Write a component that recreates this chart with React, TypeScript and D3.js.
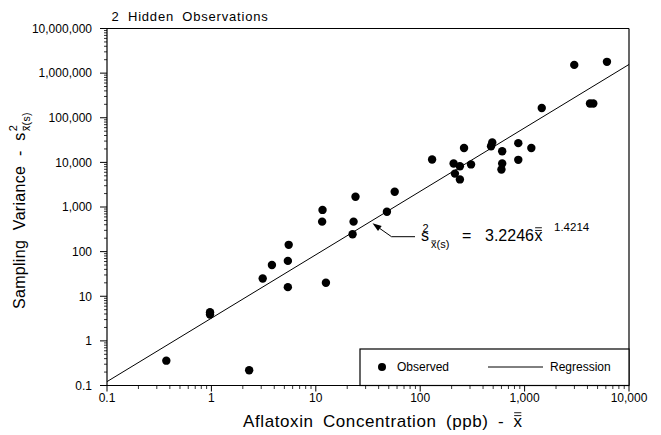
import React, { useLayoutEffect, useRef, useState } from "react";
import * as d3 from "d3";

// ---- data ----
const obsX = [0.37, 0.97, 0.97, 2.3, 3.1, 3.8, 5.4, 5.5, 5.4, 12.5, 11.5, 11.6, 22.5, 23, 24, 48, 57, 130, 263, 209, 240, 215, 240, 307, 490, 477, 610, 610, 600, 870, 870, 1160, 1460, 2990, 6150, 4230, 4550];
const obsY = [0.36, 4.4, 3.9, 0.22, 25, 50, 62, 142, 16, 20, 470, 860, 245, 470, 1700, 780, 2200, 11600, 21000, 9400, 8200, 5600, 4150, 9000, 28000, 23000, 17800, 9400, 6900, 27000, 11400, 21000, 166000, 1530000, 1790000, 209000, 209000];

const xTickValues = [0.1, 1, 10, 100, 1000, 10000];
const xTickLabels = ["0.1", "1", "10", "100", "1,000", "10,000"];
const yTickValues = [0.1, 1, 10, 100, 1000, 10000, 100000, 1000000, 10000000];
const yTickLabels = ["0.1", "1", "10", "100", "1,000", "10,000", "100,000", "1,000,000", "10,000,000"];

const regCoef = 3.2246;
const regExp = 1.4214;
const regXRange = [0.1, 10000];

const legendLabels = ["Observed", "Regression"];
const noteText = "2 Hidden Observations";

// ---- layout ----
const W = 661, H = 435;
const L = 107, R = 629, T = 28.5, B = 385.5;
const FONT = "'Liberation Sans', Arial, Helvetica, sans-serif";

type Part = { t: string; size?: number; x?: number; y?: number; dx?: number; dy?: number; bars?: number };

function RichText(props: { x: number; y: number; parts: Part[]; fontSize: number; transform?: string; letterSpacing?: number; wordSpacing?: number; anchor?: string }) {
  const { x, y, parts, fontSize, transform, letterSpacing = 0, wordSpacing = 0, anchor = "start" } = props;
  const refs = useRef<(SVGTSpanElement | null)[]>([]);
  const [bars, setBars] = useState<{ x1: number; x2: number; y: number }[]>([]);
  useLayoutEffect(() => {
    const out: { x1: number; x2: number; y: number }[] = [];
    parts.forEach((p, i) => {
      if (!p.bars) return;
      const el = refs.current[i] as any;
      if (!el) return;
      try {
        const ext = el.getExtentOfChar(0);
        const s = el.getStartPositionOfChar(0);
        const size = p.size ?? fontSize;
        for (let k = 0; k < p.bars; k++) {
          out.push({ x1: ext.x + size * 0.04, x2: ext.x + size * 0.46, y: s.y - size * (0.64 + 0.17 * k) });
        }
      } catch (e) {}
    });
    setBars(out);
  }, []);
  return (
    <g transform={transform}>
      <text x={x} y={y} fontFamily={FONT} fontSize={fontSize} textAnchor={anchor} fill="#000"
        style={{ letterSpacing: `${letterSpacing}px`, wordSpacing: `${wordSpacing}px` }}>
        {parts.map((p, i) => (
          <tspan key={i} ref={(el) => { refs.current[i] = el; }} fontSize={p.size ?? fontSize} x={p.x} y={p.y} dx={p.dx} dy={p.dy}>{p.t}</tspan>
        ))}
      </text>
      {bars.map((b, i) => (
        <line key={i} x1={b.x1} x2={b.x2} y1={b.y} y2={b.y} stroke="#000" strokeWidth={0.9} />
      ))}
    </g>
  );
}

export default function App() {
  const x = d3.scaleLog().domain([0.1, 10000]).range([L, R]);
  const y = d3.scaleLog().domain([0.1, 10000000]).range([B, T]);

  const yMinor: number[] = [];
  for (let k = -1; k < 7; k++) for (let m = 2; m <= 9; m++) yMinor.push(m * Math.pow(10, k));
  const xMinor: number[] = [];
  for (let k = -1; k < 4; k++) for (let m = 2; m <= 9; m++) xMinor.push(m * Math.pow(10, k));

  const regLine = d3.line<number>().x((d) => x(d)).y((d) => y(regCoef * Math.pow(d, regExp)));

  // annotation arrow
  const arrowStart: [number, number] = [415, 236.7];
  const arrowElbow: [number, number] = [391.5, 236.7];
  const tipX = 372.5;
  const tipY = y(regCoef * Math.pow(x.invert(tipX), regExp)) + 3;
  const dxA = arrowElbow[0] - tipX, dyA = arrowElbow[1] - tipY;
  const len = Math.hypot(dxA, dyA);
  const ux = dxA / len, uy = dyA / len;
  const hb = 9, hw = 3.2;
  const bx = tipX + ux * hb, by = tipY + uy * hb;
  const head = `${tipX},${tipY} ${bx - uy * hw},${by + ux * hw} ${bx + uy * hw},${by - ux * hw}`;

  return (
    <svg width={W} height={H} style={{ position: "absolute", left: 0, top: 0, background: "#fff" }}>
      <rect x={0} y={0} width={W} height={H} fill="#fff" />
      {/* frame */}
      <line x1={L} x2={R} y1={T} y2={T} stroke="#000" strokeWidth={1.2} />
      <line x1={R} x2={R} y1={T} y2={B} stroke="#000" strokeWidth={1.2} />
      <line x1={L} x2={L} y1={T} y2={B} stroke="#000" strokeWidth={1.2} />
      <line x1={L - 7} x2={R} y1={B} y2={B} stroke="#000" strokeWidth={1.2} />

      {/* y ticks */}
      {yTickValues.map((v, i) => (
        <g key={"yt" + i}>
          <line x1={L - 7} x2={L} y1={y(v)} y2={y(v)} stroke="#000" strokeWidth={1} />
          <text x={92} y={y(v)} dy="0.36em" textAnchor="end" fontFamily={FONT} fontSize={12}>{yTickLabels[i]}</text>
        </g>
      ))}
      {yMinor.map((v, i) => (
        <line key={"ym" + i} x1={L - 3} x2={L} y1={y(v)} y2={y(v)} stroke="#000" strokeWidth={0.8} />
      ))}

      {/* x ticks */}
      {xTickValues.map((v, i) => (
        <g key={"xt" + i}>
          <line x1={x(v)} x2={x(v)} y1={B} y2={B + 6} stroke="#000" strokeWidth={1} />
          <text x={x(v)} y={402} textAnchor="middle" fontFamily={FONT} fontSize={12}>{xTickLabels[i]}</text>
        </g>
      ))}
      {xMinor.map((v, i) => (
        <line key={"xm" + i} x1={x(v)} x2={x(v)} y1={B} y2={B + 3.5} stroke="#000" strokeWidth={0.8} />
      ))}

      {/* regression line */}
      <path d={regLine(regXRange) || ""} fill="none" stroke="#000" strokeWidth={1} />

      {/* observations */}
      {obsX.map((v, i) => (
        <circle key={"p" + i} cx={x(v)} cy={y(obsY[i])} r={4.2} fill="#000" />
      ))}

      {/* equation annotation */}
      <polyline points={`${arrowStart.join(",")} ${arrowElbow.join(",")} ${bx},${by}`} fill="none" stroke="#000" strokeWidth={1} />
      <polygon points={head} fill="#000" />
      <RichText x={421} y={240.7} fontSize={16}
        parts={[
          { t: "s" },
          { t: "2", size: 11, x: 422.5, y: 231.8 },
          { t: "x", size: 11, x: 431, y: 248, bars: 1 },
          { t: "(s)", size: 11 },
          { t: "=", x: 462, y: 240.7 },
          { t: "3.2246", x: 485, y: 240.7 },
          { t: "x", x: 534.5, y: 240.7, bars: 2 },
          { t: "1.4214", size: 11.5, x: 554, y: 230.7 },
        ]} />

      {/* legend */}
      <rect x={360} y={349} width={R - 360} height={B - 349} fill="#fff" stroke="#000" strokeWidth={1.2} />
      <circle cx={382} cy={367} r={4} fill="#000" />
      <text x={397} y={371.2} fontFamily={FONT} fontSize={12}>{legendLabels[0]}</text>
      <line x1={488} x2={543} y1={367} y2={367} stroke="#000" strokeWidth={1} />
      <text x={550} y={371.2} fontFamily={FONT} fontSize={12}>{legendLabels[1]}</text>

      {/* note */}
      <text x={111.5} y={20.5} fontFamily={FONT} fontSize={13} style={{ letterSpacing: "0.8px", wordSpacing: "4px" }}>{noteText}</text>

      {/* axis titles */}
      <RichText x={243} y={426.5} fontSize={17} letterSpacing={0.6} wordSpacing={4}
        parts={[{ t: "Aflatoxin Concentration (ppb) - " }, { t: "x", bars: 2 }]} />
      <RichText transform="translate(25,309) rotate(-90)" x={0} y={0} fontSize={16} letterSpacing={0.3} wordSpacing={5}
        parts={[{ t: "Sampling Variance - s" }, { t: "2", size: 11, dx: 1, dy: -8 }, { t: "x", size: 10.5, dx: -6, dy: 13, bars: 1 }, { t: "(s)", size: 10.5 }]} />
    </svg>
  );
}
